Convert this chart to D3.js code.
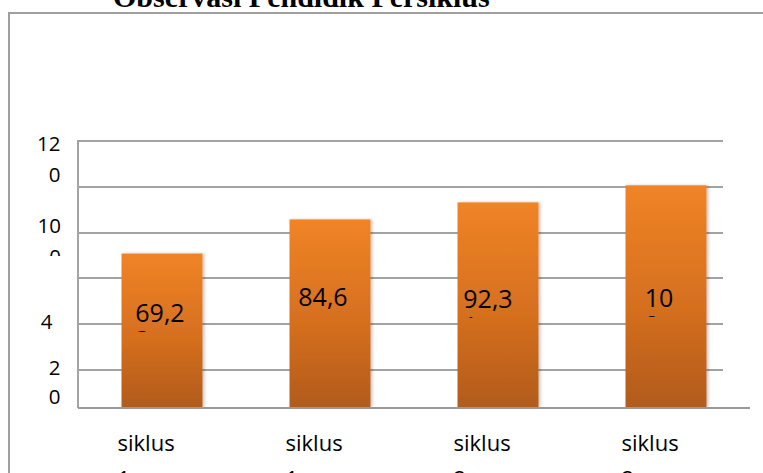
<!DOCTYPE html>
<html><head><meta charset="utf-8">
<script src="https://cdn.jsdelivr.net/npm/d3@7"></script>
<style>html,body{margin:0;padding:0;background:#fff;overflow:hidden}</style>
</head><body>
<svg id="chart" width="763" height="473"></svg>
<script>
// ---- data ----
const title = "Observasi Pendidik Persiklus";
const categories = ["siklus 1 pertemuan 1", "siklus 1 pertemuan 2", "siklus 2 pertemuan 1", "siklus 2 pertemuan 2"];
const values = [69.23, 84.62, 92.31, 100];
const gridValues = [20, 40, 60, 80, 100, 120];
const tickValues = [120, 100, 40, 20];
const tickLabels = ["120", "100", "40", "20"];

// ---- layout ----
const W = 763, H = 473;
const plotLeft = 78, plotRight = 750, gridRight = 723, plotTop = 141, plotBottom = 407;
const sans = "'Open Sans', 'Noto Sans', sans-serif";
const fmt = v => d3.format(".2~f")(v).replace(".", ",");

const svg = d3.select("#chart");
svg.append("rect").attr("width", W).attr("height", H).attr("fill", "#fff");

const defs = svg.append("defs");
const grad = defs.append("linearGradient").attr("id", "barGrad")
  .attr("x1", 0).attr("y1", 0).attr("x2", 0).attr("y2", 1);
grad.append("stop").attr("offset", "0%").attr("stop-color", "#F08426");
grad.append("stop").attr("offset", "55%").attr("stop-color", "#D56F1F");
grad.append("stop").attr("offset", "100%").attr("stop-color", "#B25B1A");
const shadow = defs.append("filter").attr("id", "shadow")
  .attr("x", "-10%").attr("y", "-5%").attr("width", "130%").attr("height", "110%");
shadow.append("feDropShadow").attr("dx", 2).attr("dy", 0).attr("stdDeviation", 1.5)
  .attr("flood-color", "#000").attr("flood-opacity", 0.22);

// outer frame (only top and left visible)
svg.append("path").attr("d", `M9,${H + 5} V13 H${W + 5}`)
  .attr("fill", "none").attr("stroke", "#9f9f9f").attr("stroke-width", 2);

// title (cut at the top)
svg.append("text").attr("x", 113).attr("y", 6.5)
  .attr("font-family", "'Liberation Serif', 'Times New Roman', serif")
  .attr("font-weight", "bold").attr("font-size", 30).attr("fill", "#000")
  .text(title);

// ---- scales ----
const x = d3.scaleBand().domain(categories).range([plotLeft, plotRight])
  .paddingInner(0.518).paddingOuter(0.259);
const yBar = d3.scaleLinear().domain([0, 120]).range([plotBottom, plotTop]);
const yGrid = d3.scaleLinear().domain([0, 120]).range([415.5, plotTop]);

// gridlines
svg.append("g").selectAll("line").data(gridValues).join("line")
  .attr("x1", plotLeft).attr("x2", gridRight)
  .attr("y1", d => Math.round(yGrid(d))).attr("y2", d => Math.round(yGrid(d)))
  .attr("stroke", "#a3a3a3").attr("stroke-width", 2);
// left side of plot box
svg.append("line").attr("x1", plotLeft).attr("x2", plotLeft)
  .attr("y1", plotTop - 1).attr("y2", plotBottom + 1)
  .attr("stroke", "#a3a3a3").attr("stroke-width", 2);

// bars
svg.append("g").selectAll("rect").data(values).join("rect")
  .attr("x", (d, i) => x(categories[i]))
  .attr("y", d => yBar(d))
  .attr("width", x.bandwidth())
  .attr("height", d => plotBottom - yBar(d))
  .attr("fill", "url(#barGrad)")
  .attr("filter", "url(#shadow)");

// category axis line
svg.append("line").attr("x1", plotLeft).attr("x2", plotRight)
  .attr("y1", plotBottom + 1).attr("y2", plotBottom + 1)
  .attr("stroke", "#9a9a9a").attr("stroke-width", 2);

// ---- y tick labels (wrapped in a narrow box, as in the source) ----
const yLabLayout = [
  { x: 60.5, y: 151, lh: 31, clip: null },
  { x: 61, y: 232.5, lh: 31, clip: 256 },
  { x: 52.5, y: 329, lh: 31, clip: 336 },
  { x: 60.5, y: 375, lh: 29, clip: null }
];
tickValues.forEach((v, i) => {
  const s = tickLabels[i];
  const lines = [s.slice(0, s.length - 1), s.slice(s.length - 1)];
  const L = yLabLayout[i];
  const g = svg.append("g");
  if (L.clip) {
    defs.append("clipPath").attr("id", "yclip" + i).append("rect")
      .attr("x", 0).attr("y", 0).attr("width", 76).attr("height", L.clip);
    g.attr("clip-path", `url(#yclip${i})`);
  }
  lines.forEach((t, k) => {
    g.append("text").attr("x", L.x).attr("y", L.y + k * L.lh)
      .attr("text-anchor", "end").attr("font-family", sans)
      .attr("font-size", 20.5).attr("fill", "#000").text(t);
  });
});

// ---- value labels (wrapped, second line clipped) ----
const valLayout = [
  { dx: -2, y: 322, clip: 10 },
  { dx: -7, y: 306, clip: 7 },
  { dx: -10, y: 308, clip: 10 },
  { dx: -7, y: 307, clip: 10 }
];
values.forEach((v, i) => {
  const s = fmt(v);
  const cut = s.length >= 5 ? 4 : 2;
  const lines = [s.slice(0, cut), s.slice(cut)];
  const L = valLayout[i];
  const cx = x(categories[i]) + x.bandwidth() / 2 + L.dx;
  defs.append("clipPath").attr("id", "vclip" + i).append("rect")
    .attr("x", 0).attr("y", 0).attr("width", W).attr("height", L.y + L.clip);
  const g = svg.append("g").attr("clip-path", `url(#vclip${i})`);
  const t1 = g.append("text").attr("x", cx).attr("y", L.y)
    .attr("text-anchor", "middle").attr("font-family", sans)
    .attr("font-size", 25).attr("fill", "#000").text(lines[0]);
  const w = t1.node().getComputedTextLength();
  g.append("text").attr("x", cx - w / 2).attr("y", L.y + 27)
    .attr("font-family", sans).attr("font-size", 25).attr("fill", "#000").text(lines[1]);
});

// ---- category labels (one word per line in a narrow box, cut by the bottom edge) ----
categories.forEach((c, i) => {
  const lines = c.split(" ");
  const x0 = x(c) + x.bandwidth() / 2 - 44.5;
  lines.forEach((t, k) => {
    svg.append("text").attr("x", x0).attr("y", 451 + k * 36)
      .attr("font-family", sans).attr("font-size", 22).attr("fill", "#000").text(t);
  });
});
</script>
</body></html>
